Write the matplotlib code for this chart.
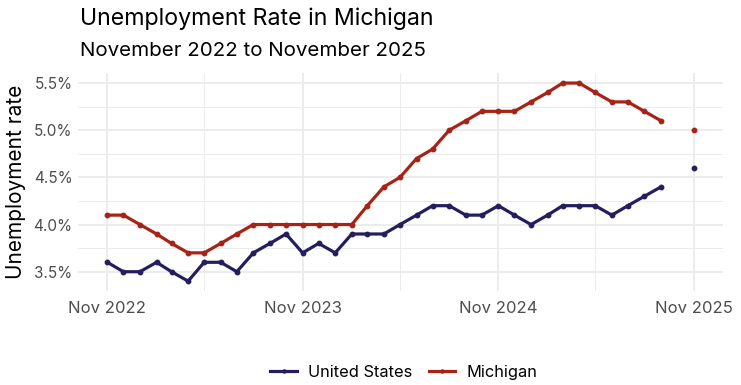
import matplotlib
matplotlib.use('Agg')
import matplotlib.pyplot as plt
import matplotlib.dates as mdates
import numpy as np
import pandas as pd

plt.rcParams['font.family'] = ['Inter', 'DejaVu Sans']

# monthly data, Nov 2022 .. Nov 2025 (Oct 2025 not published)
months = pd.date_range('2022-11-01', '2025-11-01', freq='MS')

us_rate = [3.6, 3.5, 3.5, 3.6, 3.5, 3.4, 3.6, 3.6, 3.5, 3.7, 3.8, 3.9,
           3.7, 3.8, 3.7, 3.9, 3.9, 3.9, 4.0, 4.1, 4.2, 4.2, 4.1, 4.1,
           4.2, 4.1, 4.0, 4.1, 4.2, 4.2, 4.2, 4.1, 4.2, 4.3, 4.4, np.nan,
           4.6]
mi_rate = [4.1, 4.1, 4.0, 3.9, 3.8, 3.7, 3.7, 3.8, 3.9, 4.0, 4.0, 4.0,
           4.0, 4.0, 4.0, 4.0, 4.2, 4.4, 4.5, 4.7, 4.8, 5.0, 5.1, 5.2,
           5.2, 5.2, 5.3, 5.4, 5.5, 5.5, 5.4, 5.3, 5.3, 5.2, 5.1, np.nan,
           5.0]

tick_dates = pd.to_datetime(['2022-11-01', '2023-11-01', '2024-11-01', '2025-11-01'])
minor_dates = pd.to_datetime(['2023-05-01', '2024-05-01', '2025-05-01'])
y_ticks = [3.5, 4.0, 4.5, 5.0, 5.5]
y_minor = [3.75, 4.25, 4.75, 5.25]

us_color = '#241E5E'
mi_color = '#A52317'

fig = plt.figure(figsize=(7.41, 3.85), dpi=100)
ax = fig.add_axes([0.1053, 0.244, 0.8704, 0.566])

ax.plot(months, us_rate, color=us_color, lw=2.3, marker='o', ms=3.2, label='United States')
ax.plot(months, mi_rate, color=mi_color, lw=2.3, marker='o', ms=3.2, label='Michigan')

span = months[-1] - months[0]
ax.set_xlim(months[0] - span * 0.05, months[-1] + span * 0.05)
ax.set_ylim(3.295, 5.605)

ax.set_xticks(tick_dates)
ax.set_xticks(minor_dates, minor=True)
ax.xaxis.set_major_formatter(mdates.DateFormatter('%b %Y'))
ax.set_yticks(y_ticks)
ax.set_yticks(y_minor, minor=True)
ax.set_yticklabels(['%.1f%%' % v for v in y_ticks])

ax.grid(which='major', color='#EBEBEB', lw=1.3)
ax.grid(which='minor', color='#EBEBEB', lw=0.7)
ax.set_axisbelow(True)
for s in ax.spines.values():
    s.set_visible(False)
ax.tick_params(which='both', length=0)
ax.tick_params(axis='x', labelsize=12, labelcolor='#4D4D4D', pad=7)
ax.tick_params(axis='y', labelsize=11, labelcolor='#4D4D4D', pad=4)

ax.set_ylabel('Unemployment rate', fontsize=15, color='black', labelpad=5)

fig.text(0.108, 0.935, 'Unemployment Rate in Michigan', fontsize=16.7, color='black', ha='left', va='baseline')
fig.text(0.108, 0.855, 'November 2022 to November 2025', fontsize=14.8, color='black', ha='left', va='baseline')

handles, labels = ax.get_legend_handles_labels()
fig.legend(handles, labels, loc='center', bbox_to_anchor=(0.545, 0.033), ncol=2, frameon=False,
           fontsize=11.8, handlelength=1.6, handletextpad=0.7, columnspacing=1.0, markerscale=0.7)

fig.savefig('out.png', dpi=100)
